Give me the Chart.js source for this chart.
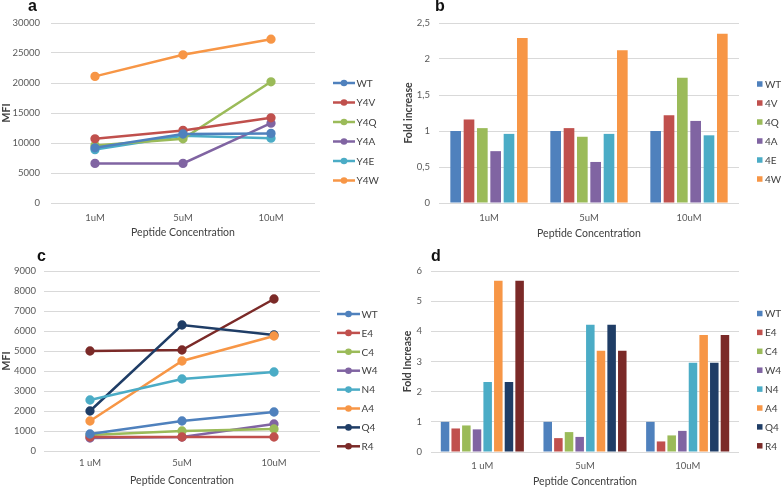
<!DOCTYPE html>
<html>
<head>
<meta charset="utf-8">
<script src="https://cdn.jsdelivr.net/npm/chart.js@4.4.1/dist/chart.umd.min.js"></script>
<style>
  html, body { margin: 0; padding: 0; background: #fff; }
  #wrap { position: relative; width: 782px; height: 489px; overflow: hidden; background:#fff; }
  canvas { position: absolute; }
  .lbl { position: absolute; font-family: "Liberation Sans", Arial, sans-serif; font-weight: bold; font-size: 16px; color: #111; line-height: 1; }
</style>
</head>
<body>
<div id="wrap">
  <canvas id="ca" width="391" height="245" style="left:0;top:0"></canvas>
  <canvas id="cb" width="391" height="245" style="left:391px;top:0"></canvas>
  <canvas id="cc" width="391" height="244" style="left:0;top:245px"></canvas>
  <canvas id="cd" width="391" height="244" style="left:391px;top:245px"></canvas>
  <div class="lbl" style="left:28px;top:-2px">a</div>
  <div class="lbl" style="left:435px;top:-2px">b</div>
  <div class="lbl" style="left:37px;top:248px">c</div>
  <div class="lbl" style="left:431px;top:248px">d</div>
</div>
<script>
// ---------- categories ----------
const catsA = ['1uM', '5uM', '10uM'];
const catsB = ['1uM', '5uM', '10uM'];
const catsC = ['1 uM', '5uM', '10uM'];
const catsD = ['1 uM', '5uM', '10uM'];

// ---------- panel a (MFI) ----------
const seriesA = ['WT', 'Y4V', 'Y4Q', 'Y4A', 'Y4E', 'Y4W'];
const a_WT  = [9200, 11500, 11600];
const a_Y4V = [10700, 12100, 14200];
const a_Y4Q = [9600, 10700, 20200];
const a_Y4A = [6600, 6600, 13300];
const a_Y4E = [8900, 11200, 10800];
const a_Y4W = [21100, 24700, 27300];
const yTicksA = ['0', '5000', '10000', '15000', '20000', '25000', '30000'];

// ---------- panel b (fold increase) ----------
const seriesB = ['WT', '4V', '4Q', '4A', '4E', '4W'];
const b_WT = [1, 1, 1];
const b_4V = [1.16, 1.04, 1.22];
const b_4Q = [1.04, 0.92, 1.74];
const b_4A = [0.72, 0.57, 1.14];
const b_4E = [0.96, 0.96, 0.94];
const b_4W = [2.29, 2.12, 2.35];
const yTicksB = ['0', '0,5', '1', '1,5', '2', '2,5'];

// ---------- panel c (MFI) ----------
const seriesC = ['WT', 'E4', 'C4', 'W4', 'N4', 'A4', 'Q4', 'R4'];
const c_WT = [850, 1500, 1950];
const c_E4 = [700, 700, 700];
const c_C4 = [800, 1000, 1100];
const c_W4 = [650, 700, 1350];
const c_N4 = [2550, 3600, 3950];
const c_A4 = [1500, 4500, 5750];
const c_Q4 = [2000, 6300, 5800];
const c_R4 = [5000, 5050, 7600];
const yTicksC = ['0', '1000', '2000', '3000', '4000', '5000', '6000', '7000', '8000', '9000'];

// ---------- panel d (fold increase) ----------
const seriesD = ['WT', 'E4', 'C4', 'W4', 'N4', 'A4', 'Q4', 'R4'];
const d_WT = [1, 1, 1];
const d_E4 = [0.78, 0.46, 0.35];
const d_C4 = [0.88, 0.66, 0.55];
const d_W4 = [0.75, 0.50, 0.70];
const d_N4 = [2.32, 4.22, 2.96];
const d_A4 = [5.68, 3.36, 3.88];
const d_Q4 = [2.32, 4.22, 2.96];
const d_R4 = [5.68, 3.36, 3.88];
const yTicksD = ['0', '1', '2', '3', '4', '5', '6'];

// ---------- styling ----------
const palette = ['#4F81BD', '#C0504D', '#9BBB59', '#8064A2', '#4BACC6', '#F79646', '#1F3D66', '#7B2A28'];
const FONT = 'Lato, "Open Sans", sans-serif';
const tickColor = '#595959';
const titleColor = '#404040';
const gridColor = '#D9D9D9';

// custom legend drawn at fixed spots in the panel
const fixedLegend = {
  id: 'fixedLegend',
  afterDraw(chart, args, opts) {
    const ctx = chart.ctx;
    ctx.save();
    ctx.font = opts.fontSize + 'px ' + FONT;
    ctx.textBaseline = 'middle';
    ctx.fillStyle = titleColor;
    chart.data.datasets.forEach((ds, i) => {
      const y = opts.y + i * opts.dy;
      const col = ds.borderColor;
      if (opts.type === 'line') {
        ctx.strokeStyle = col;
        ctx.lineWidth = 2.5;
        ctx.beginPath();
        ctx.moveTo(opts.x, y);
        ctx.lineTo(opts.x + opts.w, y);
        ctx.stroke();
        ctx.fillStyle = col;
        ctx.beginPath();
        ctx.arc(opts.x + opts.w / 2, y, 3.3, 0, Math.PI * 2);
        ctx.fill();
        ctx.fillStyle = titleColor;
        ctx.fillText(ds.label, opts.x + opts.w + 1.5, y + 0.5);
      } else {
        ctx.fillStyle = ds.backgroundColor;
        ctx.fillRect(opts.x, y - 2.75, 5.5, 5.5);
        ctx.fillStyle = titleColor;
        ctx.fillText(ds.label, opts.x + 8, y + 0.5);
      }
    });
    ctx.restore();
  }
};

function lineSets(names, arrays) {
  return names.map((n, i) => ({
    label: n, data: arrays[i],
    borderColor: palette[i], backgroundColor: palette[i],
    pointBackgroundColor: palette[i], pointBorderColor: palette[i],
    borderWidth: 2.5, pointRadius: 3.4, tension: 0
  }));
}
function barSets(names, arrays) {
  return names.map((n, i) => ({
    label: n, data: arrays[i],
    borderColor: palette[i], backgroundColor: palette[i], borderWidth: 0
  }));
}

function makeChart(id, type, cats, datasets, cfg) {
  return new Chart(document.getElementById(id), {
    type: type,
    data: { labels: cats, datasets: datasets },
    plugins: [fixedLegend],
    options: {
      responsive: false, animation: false, devicePixelRatio: 1,
      layout: { padding: cfg.padding },
      datasets: { bar: { categoryPercentage: cfg.catPct || 0.8, barPercentage: cfg.barPct || 0.8 } },
      plugins: {
        legend: { display: false }, tooltip: { enabled: false },
        fixedLegend: cfg.legend
      },
      scales: {
        x: {
          offset: true,
          grid: { display: false, drawTicks: false },
          border: { display: false },
          ticks: { color: tickColor, font: { family: FONT, size: 9.5 }, padding: cfg.xTickPad, maxRotation: 0 },
          title: { display: true, text: 'Peptide Concentration', color: titleColor,
                   font: { family: FONT, size: 10.5 }, padding: { top: 0, bottom: cfg.xTitlePad } },
          afterFit: s => { s.height = cfg.xH; }
        },
        y: {
          min: 0, max: cfg.max,
          grid: { color: gridColor, lineWidth: 1, drawTicks: false },
          border: { display: false },
          ticks: { color: tickColor, font: { family: FONT, size: 9.5 }, padding: cfg.yTickPad,
                   stepSize: cfg.step, callback: (v, i) => cfg.tickLabels[i] },
          title: { display: true, text: cfg.yTitle, color: titleColor,
                   font: { family: FONT, size: 10.5, weight: 'bold' }, padding: { top: 0, bottom: 0 } },
          afterFit: s => { s.width = cfg.yW; }
        }
      }
    }
  });
}

makeChart('ca', 'line', catsA,
  lineSets(seriesA, [a_WT, a_Y4V, a_Y4Q, a_Y4A, a_Y4E, a_Y4W]),
  { padding: { left: 0, right: 76, top: 23, bottom: 0 }, yW: 51, xH: 42, max: 30000, step: 5000,
    tickLabels: yTicksA,
    yTitle: 'MFI', yTickPad: 11, xTickPad: 9, xTitlePad: 6,
    legend: { type: 'line', x: 333, y: 83, dy: 19.5, w: 22, fontSize: 10 } });

makeChart('cb', 'bar', catsB,
  barSets(seriesB, [b_WT, b_4V, b_4Q, b_4A, b_4E, b_4W]),
  { padding: { left: 11, right: 43, top: 23, bottom: 0 }, yW: 37, xH: 42, max: 2.5, step: 0.5,
    tickLabels: yTicksB,
    yTitle: 'Fold increase', yTickPad: 9, xTickPad: 9, xTitlePad: 5, catPct: 0.8, barPct: 0.8,
    legend: { type: 'box', x: 366, y: 84, dy: 19, fontSize: 10 } });

makeChart('cc', 'line', catsC,
  lineSets(seriesC, [c_WT, c_E4, c_C4, c_W4, c_N4, c_A4, c_Q4, c_R4]),
  { padding: { left: 0, right: 71, top: 26, bottom: 0 }, yW: 44, xH: 38, max: 9000, step: 1000,
    tickLabels: yTicksC,
    yTitle: 'MFI', yTickPad: 8, xTickPad: 6, xTitlePad: 2,
    legend: { type: 'line', x: 337, y: 69, dy: 18.9, w: 23, fontSize: 10 } });

makeChart('cd', 'bar', catsD,
  barSets(seriesD, [d_WT, d_E4, d_C4, d_W4, d_N4, d_A4, d_Q4, d_R4]),
  { padding: { left: 10, right: 43, top: 26, bottom: 0 }, yW: 30, xH: 37, max: 6, step: 1,
    tickLabels: yTicksD,
    yTitle: 'Fold Increase', yTickPad: 9, xTickPad: 8, xTitlePad: 1, catPct: 0.83, barPct: 0.8,
    legend: { type: 'box', x: 366, y: 68.5, dy: 18.9, fontSize: 10 } });
</script>
</body>
</html>
